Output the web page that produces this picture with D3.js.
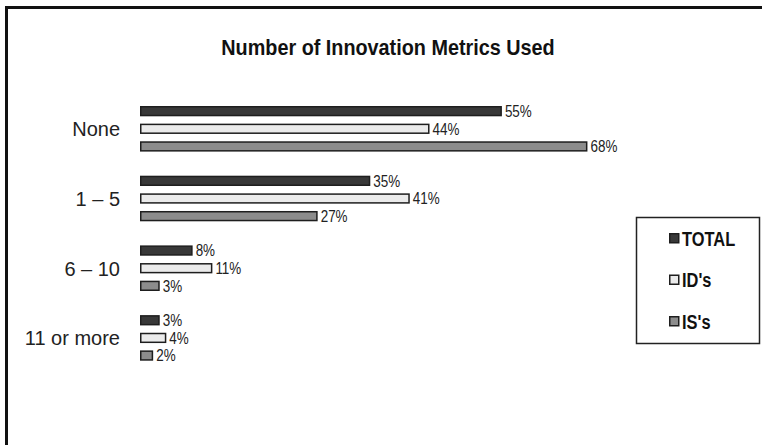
<!DOCTYPE html>
<html>
<head>
<meta charset="utf-8">
<script src="https://cdn.jsdelivr.net/npm/d3@7"></script>
<style>
  html, body { margin: 0; padding: 0; background: #fff; }
  svg { display: block; }
</style>
</head>
<body>
<svg id="chart" width="762" height="445"></svg>
<script>
// Data
const categories = ["None", "1 \u2013 5", "6 \u2013 10", "11 or more"];
const seriesNames = ["TOTAL", "ID's", "IS's"];
const totalValues = [55, 35, 8, 3];
const idValues = [44, 41, 11, 4];
const isValues = [68, 27, 3, 2];
const seriesColors = ["#383838", "#ebebeb", "#8c8c8c"];

const seriesValues = [totalValues, idValues, isValues];
const rows = [];
categories.forEach((c, ci) => {
  seriesNames.forEach((s, si) => {
    rows.push({ category: c, series: s, value: seriesValues[si][ci], si });
  });
});

const svg = d3.select("#chart");
const sans = "'Liberation Sans', Arial, sans-serif";

// Squeeze text horizontally to give a narrow face
function condense(sel, k) {
  sel.each(function () {
    const w = this.getComputedTextLength();
    d3.select(this)
      .attr("textLength", (w * k).toFixed(2))
      .attr("lengthAdjust", "spacingAndGlyphs");
  });
}

// Outer frame (left and top edges)
svg.append("path")
  .attr("d", "M6.5,445 V7.5 H762")
  .attr("fill", "none")
  .attr("stroke", "#111")
  .attr("stroke-width", 3);

// Title
svg.append("text")
  .attr("x", 388)
  .attr("y", 55)
  .attr("text-anchor", "middle")
  .attr("font-family", sans)
  .attr("font-weight", "bold")
  .attr("font-size", 22)
  .attr("fill", "#111")
  .text("Number of Innovation Metrics Used")
  .call(condense, 0.9);

// Scales
const x = d3.scaleLinear().domain([0, 100]).range([140, 798]);
const y = d3.scaleBand().domain(categories).range([106, 360.7]).paddingInner(0.346).paddingOuter(0);
const ySub = d3.scaleBand().domain(seriesNames).range([0, y.bandwidth()]).paddingInner(0.416).paddingOuter(0);
const color = d3.scaleOrdinal().domain(seriesNames).range(seriesColors);

// Category labels
svg.append("g")
  .selectAll("text")
  .data(categories)
  .join("text")
  .attr("x", 120)
  .attr("y", d => y(d) + y.bandwidth() / 2 + 7.5)
  .attr("text-anchor", "end")
  .attr("font-family", sans)
  .attr("font-size", 20)
  .attr("fill", "#222")
  .text(d => d);

// Bars
svg.append("g")
  .selectAll("rect")
  .data(rows)
  .join("rect")
  .attr("x", x(0) + 0.75)
  .attr("y", d => y(d.category) + ySub(d.series) + 0.75)
  .attr("width", d => x(d.value) - x(0) - 1.5)
  .attr("height", ySub.bandwidth() - 1.5)
  .attr("fill", d => color(d.series))
  .attr("stroke", "#1e1e1e")
  .attr("stroke-width", 1.5);

// Value labels
svg.append("g")
  .selectAll("text")
  .data(rows)
  .join("text")
  .attr("x", d => x(d.value) + 3)
  .attr("y", d => y(d.category) + ySub(d.series) + ySub.bandwidth() / 2 + 5.8)
  .attr("font-family", sans)
  .attr("font-size", 16)
  .attr("fill", "#222")
  .text(d => d.value + "%")
  .call(condense, 0.84);

// Legend
const legend = svg.append("g");
legend.append("rect")
  .attr("x", 636.5)
  .attr("y", 217.5)
  .attr("width", 123)
  .attr("height", 126)
  .attr("fill", "#fff")
  .attr("stroke", "#222")
  .attr("stroke-width", 1.5);

const legendY = d3.scalePoint().domain(seriesNames).range([238, 321]);
const items = legend.selectAll("g.item")
  .data(seriesNames)
  .join("g")
  .attr("class", "item")
  .attr("transform", d => `translate(669, ${legendY(d)})`);
items.append("rect")
  .attr("x", 0.75)
  .attr("y", -4.25)
  .attr("width", 9)
  .attr("height", 9)
  .attr("fill", d => color(d))
  .attr("stroke", "#1e1e1e")
  .attr("stroke-width", 1.5);
items.append("text")
  .attr("x", 13)
  .attr("y", 7.5)
  .attr("font-family", sans)
  .attr("font-weight", "bold")
  .attr("font-size", 20)
  .attr("fill", "#111")
  .text(d => d)
  .call(condense, 0.82);
</script>
</body>
</html>
